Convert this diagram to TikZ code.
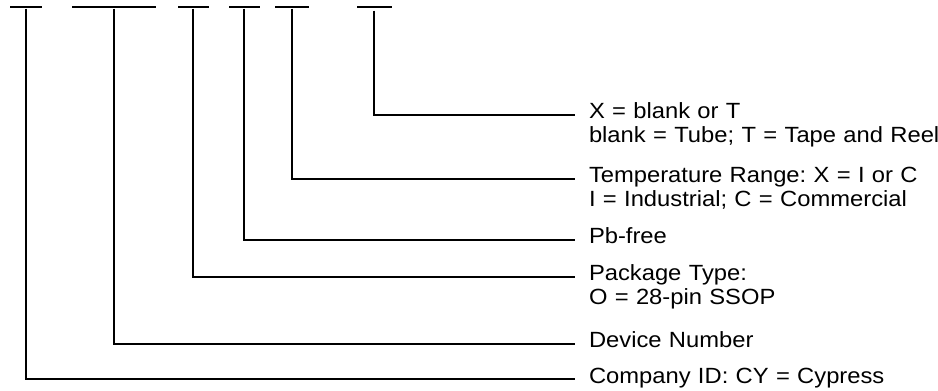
\documentclass[tikz,border=0pt]{standalone}
\usepackage{fontspec}
\setmainfont{Liberation Sans}[FakeStretch=1.08]
\usetikzlibrary{positioning}

\newcommand\lblfont{\fontsize{16.5}{18}\selectfont\frenchspacing\lineskiplimit=-10pt\relax}

\begin{document}
\begin{tikzpicture}[x=0.75pt,y=-0.75pt,line width=1.5pt,
        field/.style={rectangle,inner sep=0pt,minimum width=#1,minimum height=1.5pt,fill=black},
        lbl/.style={inner sep=0pt,text width=300pt,align=left,font=\lblfont}]

        \useasboundingbox (0,0) rectangle (938,391);

        % fields of the part number
        \node [field=24pt]    (f1) at (26,6.7)  {};
        \node [field=63pt]    (f2) at (114,6.7) {};
        \node [field=23.25pt] (f3) at (193,6.7) {};
        \node [field=23.25pt] (f4) at (244,6.7) {};
        \node [field=25.5pt]  (f5) at (291.5,6.7) {};
        \node [field=26.25pt] (f6) at (374,6.7) {};

        % line ends
        \coordinate (e6) at (575,115);
        \coordinate (e5) at (575,179);
        \coordinate (e4) at (575,240);
        \coordinate (e3) at (575,277);
        \coordinate (e2) at (575,344);
        \coordinate (e1) at (575,379);

        \node [lbl] (l6) [right=9.75pt of e6,anchor=base west,yshift=-3pt] {X = blank or T\\blank = Tube; T = Tape and Reel};
        \node [lbl] (l5) [right=9.75pt of e5,anchor=base west,yshift=-3pt] {Temperature Range: X = I or C\\I = Industrial; C = Commercial};
        \node [lbl] (l4) [right=9.75pt of e4,anchor=base west,yshift=-3pt] {Pb-free};
        \node [lbl] (l3) [right=9.75pt of e3,anchor=base west,yshift=-3pt] {Package Type:\\O = 28-pin SSOP};
        \node [lbl] (l2) [right=9.75pt of e2,anchor=base west,yshift=-3pt] {Device Number};
        \node [lbl] (l1) [right=9.75pt of e1,anchor=base west,yshift=-3pt] {Company ID: CY = Cypress};

        \draw (f1) |- (e1);
        \draw (f2) |- (e2);
        \draw (f3) |- (e3);
        \draw (f4) |- (e4);
        \draw (f5) |- (e5);
        \draw [shorten <=1.5pt] (f6) |- (e6);
      \end{tikzpicture}
\end{document}
